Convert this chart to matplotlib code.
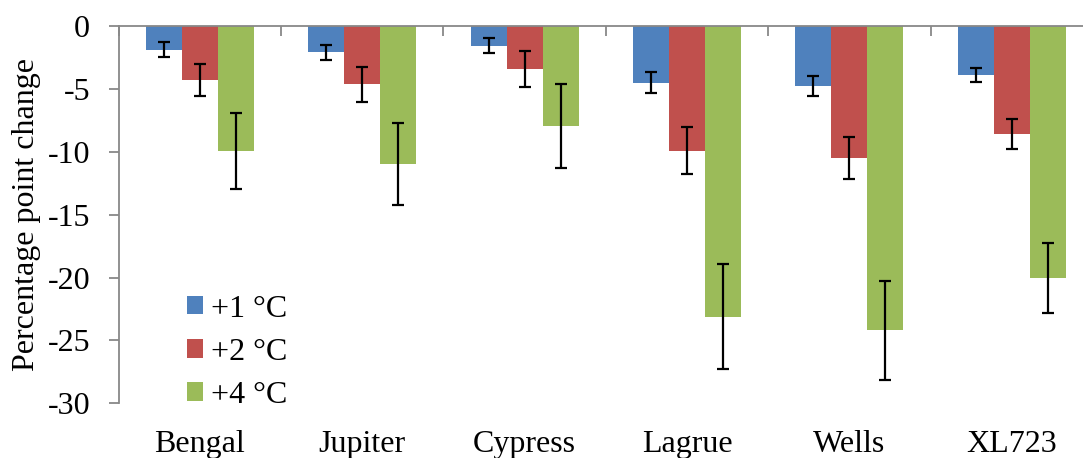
import numpy as np
import matplotlib
matplotlib.use("Agg")
import matplotlib.pyplot as plt
from matplotlib.patches import Patch

plt.rcParams['font.family'] = ['Liberation Serif', 'DejaVu Serif']

# data
cultivars = ["Bengal", "Jupiter", "Cypress", "Lagrue", "Wells", "XL723"]
series = ["+1 \u00b0C", "+2 \u00b0C", "+4 \u00b0C"]
plus1 = [-1.9, -2.1, -1.55, -4.5, -4.75, -3.9]
plus2 = [-4.3, -4.65, -3.4, -9.9, -10.5, -8.6]
plus4 = [-9.95, -10.95, -7.95, -23.1, -24.2, -20.05]
err1 = [0.6, 0.63, 0.63, 0.85, 0.8, 0.55]
err2 = [1.3, 1.4, 1.43, 1.84, 1.7, 1.2]
err4 = [3.0, 3.27, 3.3, 4.2, 3.93, 2.77]

colors = ["#4F81BD", "#C0504D", "#9BBB59"]

fig = plt.figure(figsize=(10.83, 4.58), dpi=100)
ax = fig.add_axes([0.1096, 0.1194, 0.8996, 0.8238])

x = np.arange(len(cultivars))
w = 0.222
vals = [plus1, plus2, plus4]
errs = [err1, err2, err4]
for i in range(3):
    ax.bar(x + (i - 1) * w, vals[i], w, color=colors[i], edgecolor='none',
           yerr=errs[i], capsize=4.5,
           error_kw=dict(elinewidth=1.6, capthick=1.6, ecolor='black'))

ax.set_xlim(-0.5, len(cultivars) - 0.5)
ax.set_ylim(-30, 0)
ax.set_yticks(np.arange(-30, 1, 5))
ax.set_yticklabels([str(v) for v in range(-30, 1, 5)])
ax.set_xticks(x)
ax.set_xticklabels(cultivars)
ax.set_xticks(np.arange(-0.5, len(cultivars)), minor=True)

for s in ['right', 'bottom']:
    ax.spines[s].set_visible(False)
for s in ['left', 'top']:
    ax.spines[s].set_color('#888888')
    ax.spines[s].set_linewidth(1.3)

ax.tick_params(axis='y', direction='out', length=7.5, width=1.3, color='#888888',
               labelsize=23, pad=13)
ax.tick_params(axis='x', which='major', length=0, labelsize=23, pad=19)
ax.tick_params(axis='x', which='minor', bottom=False, top=True, direction='in',
               length=7, width=1.3, color='#888888')

ax.set_ylabel("Percentage point change", fontsize=23, labelpad=5)

handles = [Patch(facecolor=c, edgecolor='none') for c in colors]
ax.legend(handles, series, loc='lower left', bbox_to_anchor=(0.044, -0.085),
          frameon=False, fontsize=23, handlelength=0.5, handleheight=0.5,
          handletextpad=0.25, labelspacing=0.44, borderpad=0.3)

fig.savefig("out.png", dpi=100)
